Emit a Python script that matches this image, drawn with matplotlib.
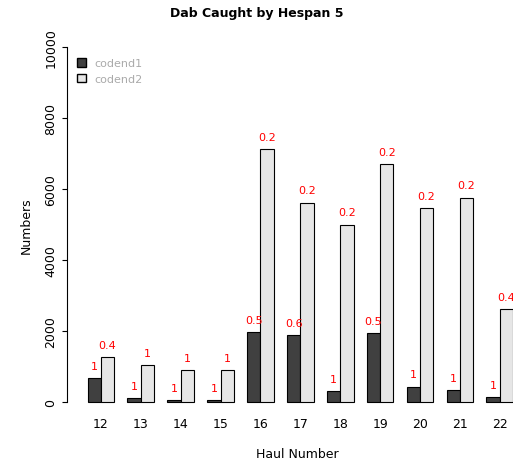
import matplotlib
matplotlib.use("Agg")
import matplotlib.pyplot as plt
import numpy as np

hauls = ["12","13","14","15","16","17","18","19","20","21","22"]
codend1 = [680,100,50,50,1980,1880,300,1950,430,340,130]
codend2 = [1250,1030,900,900,7130,5620,5000,6700,5470,5760,2620]
lab1 = ["1","1","1","1","0.5","0.6","1","0.5","1","1","1"]
lab2 = ["0.4","1","1","1","0.2","0.2","0.2","0.2","0.2","0.2","0.4"]

fig = plt.figure(figsize=(5.13,4.64), dpi=100)
ax = fig.add_axes([67/513, 47/464, 460/513, 383/464])
n = len(hauls)
x1 = np.arange(n)*3 + 1.55
x2 = x1 + 1
ax.bar(x1, codend1, width=1, color="#404040", edgecolor="black", linewidth=0.8)
ax.bar(x2, codend2, width=1, color="#e6e6e6", edgecolor="black", linewidth=0.8)
for x, v, l in zip(x1, codend1, lab1):
    ax.text(x, v+200, l, color="red", ha="center", va="bottom", fontsize=8)
for x, v, l in zip(x2, codend2, lab2):
    ax.text(x, v+200, l, color="red", ha="center", va="bottom", fontsize=8)
ax.set_xlim(-0.5, 34.1)
ax.set_ylim(-400, 10400)
for s in ["top","right","bottom"]:
    ax.spines[s].set_visible(False)
ax.spines["left"].set_bounds(0, 10000)
ax.set_yticks(range(0, 10001, 2000))
ax.set_yticklabels([str(v) for v in range(0, 10001, 2000)], rotation=90, va="center", fontsize=9)
ax.set_xticks(x1+0.5)
ax.set_xticklabels(hauls, fontsize=9)
ax.tick_params(axis="x", length=0, pad=1)
ax.set_xlabel("Haul Number", fontsize=9, labelpad=12)
ax.set_ylabel("Numbers", fontsize=9, labelpad=8)
fig.text(0.5, 0.97, "Dab Caught by Hespan 5", ha="center", va="center", fontsize=9, fontweight="bold")
ax.legend(handles=[plt.Rectangle((0,0),1,1,fc="#404040",ec="black"),
                   plt.Rectangle((0,0),1,1,fc="#e6e6e6",ec="black")],
          labels=["codend1","codend2"], loc="upper left", bbox_to_anchor=(0.0, 0.96),
          frameon=False, fontsize=8, labelcolor="#aaaaaa", handlelength=0.8, handleheight=0.8)
fig.savefig("out.png", dpi=100)
